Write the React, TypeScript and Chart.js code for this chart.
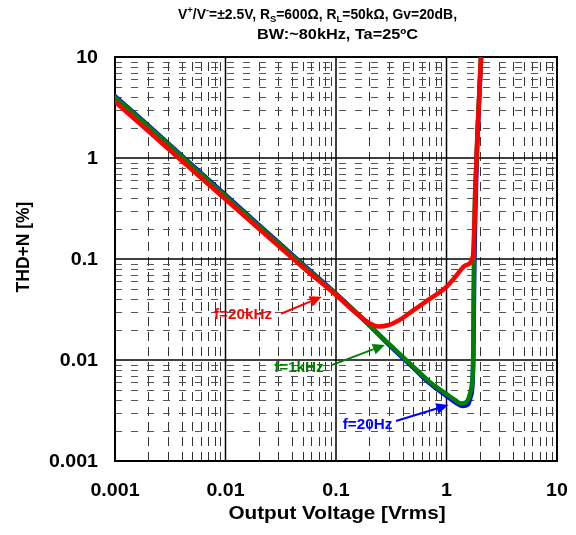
import React, { useEffect, useRef } from "react";
import { Chart, registerables } from "chart.js";

Chart.register(...registerables);

// ---------------- data ----------------
const xTickValues = [0.001, 0.01, 0.1, 1, 10];
const xTickLabels = ["0.001", "0.01", "0.1", "1", "10"];
const yTickValues = [0.001, 0.01, 0.1, 1, 10];
const yTickLabels = ["0.001", "0.01", "0.1", "1", "10"];

const f20kHzVout = [0.001, 0.002, 0.005, 0.01, 0.02, 0.05, 0.1, 0.15, 0.2, 0.24, 0.3, 0.4, 0.5, 0.7, 1.0, 1.22, 1.5, 1.73, 1.87, 2.05];
const f20kHzThd = [3.6, 1.85, 0.76, 0.39, 0.2, 0.083, 0.044, 0.0295, 0.0232, 0.0215, 0.0222, 0.026, 0.031, 0.04, 0.053, 0.068, 0.087, 0.105, 1.0, 10];

const f1kHzVout = [0.001, 0.002, 0.005, 0.01, 0.02, 0.05, 0.1, 0.2, 0.3, 0.5, 0.7, 1.0, 1.2, 1.35, 1.5, 1.62, 1.7, 1.73, 1.75, 1.77, 1.87, 2.05];
const f1kHzThd = [4.0, 2.05, 0.83, 0.42, 0.213, 0.087, 0.045, 0.0222, 0.0145, 0.0086, 0.0061, 0.0046, 0.004, 0.0037, 0.0038, 0.0045, 0.0058, 0.0075, 0.015, 0.1, 1.0, 10];

const f20HzVout = [0.001, 0.002, 0.005, 0.01, 0.02, 0.05, 0.1, 0.2, 0.3, 0.5, 0.7, 1.0, 1.2, 1.4, 1.55, 1.65, 1.72, 1.75, 1.77, 1.79, 1.88, 2.06];
const f20HzThd = [4.1, 2.1, 0.85, 0.43, 0.218, 0.089, 0.0455, 0.0222, 0.0142, 0.0084, 0.0059, 0.0044, 0.0038, 0.0035, 0.0036, 0.0043, 0.0058, 0.011, 0.035, 0.1, 1.0, 10];

const seriesNames = ["f=20kHz", "f=1kHz", "f=20Hz"];
const seriesColors = ["#ff0000", "#008000", "#0000ff"];

// annotation anchors (data coordinates): label centre, arrow tail, arrow head
const noteLabelX = [0.0144, 0.0462, 0.193];
const noteLabelY = [0.0279, 0.00833, 0.00224];
const noteTailX = [0.0318, 0.0914, 0.349];
const noteTailY = [0.0287, 0.0089, 0.00249];
const noteHeadX = [0.0743, 0.277, 1.04];
const noteHeadY = [0.0423, 0.0141, 0.00358];

const xAxisTitle = "Output Voltage [Vrms]";
const yAxisTitle = "THD+N [%]";
const titleLine1 = [
  { t: "V" },
  { t: "+", sup: true },
  { t: "/V" },
  { t: "-", sup: true },
  { t: "=±2.5V, R" },
  { t: "S", sub: true },
  { t: "=600Ω, R" },
  { t: "L", sub: true },
  { t: "=50kΩ, Gv=20dB," },
];
const titleLine2 = "BW:~80kHz, Ta=25ºC";

// ---------------- helpers ----------------
const FONT = '"Liberation Sans", Arial, Helvetica, sans-serif';
const SX = 1.09;

function toPoints(xs: number[], ys: number[]) {
  return xs.map((x, i) => ({ x, y: ys[i] }));
}

function drawText(
  ctx: CanvasRenderingContext2D,
  text: string,
  x: number,
  y: number,
  size: number,
  color: string,
  align: CanvasTextAlign,
  rotate = 0,
  fitWidth = 0
) {
  ctx.save();
  ctx.font = `bold ${size}px ${FONT}`;
  ctx.fillStyle = color;
  ctx.textAlign = align;
  ctx.textBaseline = "middle";
  ctx.translate(x, y);
  const sx = fitWidth > 0 ? fitWidth / ctx.measureText(text).width : SX;
  if (rotate) {
    ctx.rotate(rotate);
    ctx.scale(1, SX);
  } else {
    ctx.scale(sx, 1);
  }
  ctx.fillText(text, 0, 0);
  ctx.restore();
}

function drawRich(
  ctx: CanvasRenderingContext2D,
  segs: { t: string; sup?: boolean; sub?: boolean }[],
  x: number,
  y: number,
  size: number,
  color: string,
  fitWidth: number
) {
  ctx.save();
  ctx.fillStyle = color;
  ctx.textBaseline = "middle";
  ctx.textAlign = "left";
  let total = 0;
  for (const s of segs) {
    const fs = s.sup || s.sub ? size * 0.68 : size;
    ctx.font = `bold ${fs}px ${FONT}`;
    total += ctx.measureText(s.t).width;
  }
  ctx.translate(x, y);
  ctx.scale(fitWidth / total, 1);
  let cx = 0;
  for (const s of segs) {
    const fs = s.sup || s.sub ? size * 0.68 : size;
    ctx.font = `bold ${fs}px ${FONT}`;
    const dy = s.sup ? -size * 0.3 : s.sub ? size * 0.28 : 0;
    ctx.fillText(s.t, cx, dy);
    cx += ctx.measureText(s.t).width;
  }
  ctx.restore();
}

function drawArrow(ctx: CanvasRenderingContext2D, x1: number, y1: number, x2: number, y2: number, color: string) {
  const ang = Math.atan2(y2 - y1, x2 - x1);
  const len = 12;
  const hw = 5.5;
  const bx = x2 - len * Math.cos(ang);
  const by = y2 - len * Math.sin(ang);
  ctx.save();
  ctx.strokeStyle = color;
  ctx.fillStyle = color;
  ctx.lineWidth = 2;
  ctx.beginPath();
  ctx.moveTo(x1, y1);
  ctx.lineTo(bx, by);
  ctx.stroke();
  ctx.beginPath();
  ctx.moveTo(x2, y2);
  ctx.lineTo(bx + hw * Math.sin(ang), by - hw * Math.cos(ang));
  ctx.lineTo(bx - hw * Math.sin(ang), by + hw * Math.cos(ang));
  ctx.closePath();
  ctx.fill();
  ctx.restore();
}

const gridPlugin = {
  id: "thdGrid",
  beforeDatasetsDraw(chart: any) {
    const { ctx, chartArea, scales } = chart;
    const { left, right, top, bottom } = chartArea;
    const xs = scales.x;
    const ys = scales.y;
    ctx.save();
    // minor vertical lines
    ctx.lineWidth = 1;
    ctx.strokeStyle = "#333";
    ctx.setLineDash([9, 6]);
    for (let d = -3; d <= 0; d++) {
      for (let m = 2; m <= 9; m++) {
        const px = Math.round(xs.getPixelForValue(m * Math.pow(10, d))) + 0.5;
        ctx.beginPath();
        ctx.moveTo(px, bottom);
        ctx.lineTo(px, top);
        ctx.stroke();
      }
    }
    // minor horizontal lines
    ctx.strokeStyle = "#555";
    ctx.setLineDash([7, 9]);
    for (let d = -3; d <= 0; d++) {
      for (let m = 2; m <= 9; m++) {
        const py = Math.round(ys.getPixelForValue(m * Math.pow(10, d))) + 0.5;
        ctx.beginPath();
        ctx.moveTo(left, py);
        ctx.lineTo(right, py);
        ctx.stroke();
      }
    }
    // major lines
    ctx.setLineDash([]);
    ctx.strokeStyle = "#000";
    ctx.lineWidth = 1.5;
    for (const v of xTickValues) {
      const px = xs.getPixelForValue(v);
      ctx.beginPath();
      ctx.moveTo(px, bottom);
      ctx.lineTo(px, top);
      ctx.stroke();
    }
    for (const v of yTickValues) {
      const py = ys.getPixelForValue(v);
      ctx.beginPath();
      ctx.moveTo(left, py);
      ctx.lineTo(right, py);
      ctx.stroke();
    }
    ctx.lineWidth = 2;
    ctx.strokeRect(left, top, right - left, bottom - top);
    ctx.restore();
  },
  afterDraw(chart: any) {
    const { ctx, chartArea, scales } = chart;
    const { left, right, top, bottom } = chartArea;
    const xs = scales.x;
    const ys = scales.y;
    // tick labels
    xTickValues.forEach((v, i) => {
      drawText(ctx, xTickLabels[i], xs.getPixelForValue(v), bottom + 30, 18, "#000", "center");
    });
    yTickValues.forEach((v, i) => {
      drawText(ctx, yTickLabels[i], left - 17, ys.getPixelForValue(v) + 1, 18, "#000", "right");
    });
    // axis titles
    drawText(ctx, xAxisTitle, (left + right) / 2 + 1, bottom + 53, 19, "#000", "center");
    drawText(ctx, yAxisTitle, 24, (top + bottom) / 2 - 12, 17.5, "#000", "center", -Math.PI / 2);
    // chart title
    drawRich(ctx, titleLine1, 178, 15, 14, "#000", 279);
    drawText(ctx, titleLine2, 337.5, 35, 14, "#000", "center", 0, 161);
    // annotations
    for (let i = 0; i < seriesNames.length; i++) {
      drawArrow(
        ctx,
        xs.getPixelForValue(noteTailX[i]),
        ys.getPixelForValue(noteTailY[i]),
        xs.getPixelForValue(noteHeadX[i]),
        ys.getPixelForValue(noteHeadY[i]),
        seriesColors[i]
      );
      drawText(
        ctx,
        seriesNames[i],
        xs.getPixelForValue(noteLabelX[i]),
        ys.getPixelForValue(noteLabelY[i]),
        14,
        seriesColors[i],
        "center"
      );
    }
  },
};

export default function App() {
  const canvasRef = useRef<HTMLCanvasElement | null>(null);

  useEffect(() => {
    if (!canvasRef.current) return;
    const datasets = [
      { label: seriesNames[0], data: toPoints(f20kHzVout, f20kHzThd), borderColor: seriesColors[0], borderWidth: 4.5 },
      { label: seriesNames[1], data: toPoints(f1kHzVout, f1kHzThd), borderColor: seriesColors[1], borderWidth: 4.5 },
      { label: seriesNames[2], data: toPoints(f20HzVout, f20HzThd), borderColor: seriesColors[2], borderWidth: 4.5 },
    ].map((d) => ({
      ...d,
      backgroundColor: d.borderColor,
      fill: false,
      pointRadius: 0,
      cubicInterpolationMode: "monotone" as const,
      borderCapStyle: "round" as const,
      borderJoinStyle: "round" as const,
    }));

    const chart = new Chart(canvasRef.current, {
      type: "line",
      data: { datasets },
      options: {
        animation: false,
        responsive: false,
        maintainAspectRatio: false,
        layout: { padding: { top: 57, right: 19, left: 0, bottom: 0 } },
        plugins: {
          legend: { display: false },
          tooltip: { enabled: false },
          title: { display: false },
        },
        scales: {
          x: {
            type: "logarithmic",
            min: 0.001,
            max: 10,
            grid: { display: false },
            border: { display: false },
            ticks: { display: false },
            afterFit: (s: any) => {
              s.height = 74;
            },
          },
          y: {
            type: "logarithmic",
            min: 0.001,
            max: 10,
            grid: { display: false },
            border: { display: false },
            ticks: { display: false },
            afterFit: (s: any) => {
              s.width = 115;
            },
          },
        },
      },
      plugins: [gridPlugin],
    } as any);

    return () => chart.destroy();
  }, []);

  return (
    <div style={{ position: "fixed", left: 0, top: 0, width: 576, height: 535, background: "#fff" }}>
      <canvas ref={canvasRef} width={576} height={535} style={{ display: "block" }} />
    </div>
  );
}
